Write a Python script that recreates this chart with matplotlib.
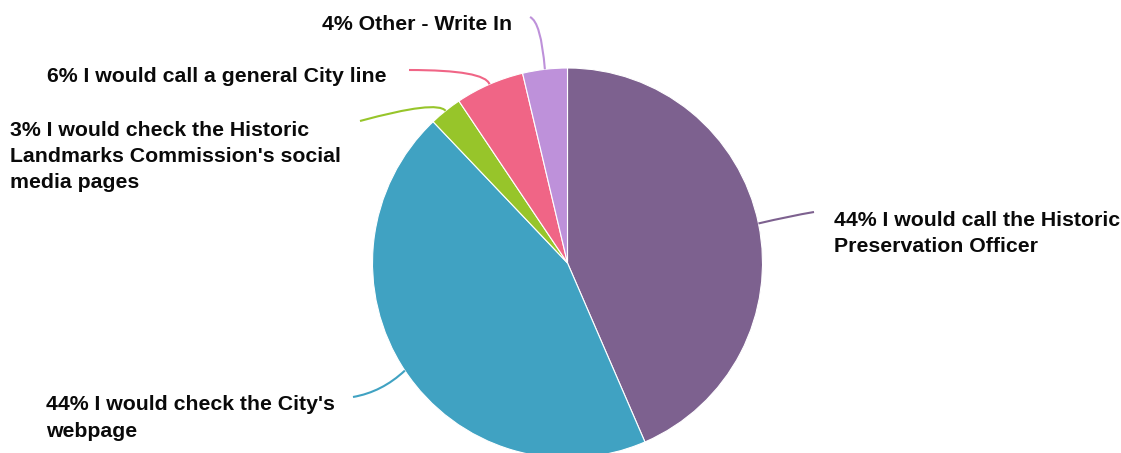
import matplotlib
matplotlib.use("Agg")
import matplotlib.pyplot as plt
import numpy as np
from matplotlib.path import Path
from matplotlib.patches import PathPatch

categories = [
    "I would call the Historic\nPreservation Officer",
    "I would check the City's\nwebpage",
    "I would check the Historic\nLandmarks Commission's social\nmedia pages",
    "I would call a general City line",
    "Other - Write In",
]
values = [43.5, 44.4, 2.7, 5.7, 3.7]
pct_labels = ["44%", "44%", "3%", "6%", "4%"]
colors = ["#7D618F", "#40A2C2", "#97C52A", "#F06586", "#BE91DA"]

W, H = 1121, 453
fig = plt.figure(figsize=(W / 100, H / 100), dpi=100)
ax = fig.add_axes([0, 0, 1, 1])

cx, cy, R = 567.5, H - 263, 195
wedges, _ = ax.pie(values, colors=colors, startangle=90, counterclock=False,
                   center=(cx, cy), radius=R,
                   wedgeprops=dict(edgecolor="white", linewidth=0.8))
ax.set_xlim(0, W)
ax.set_ylim(0, H)
ax.set_aspect("equal")
ax.axis("off")

# label layout (image pixel coords: x, y-center of text block), control & end points of connectors
label_pos = [(834, 233.5), (46, 418), (10, 156.5), (47, 77), (322, 24)]
conn_ctrl = [(790, 216), (382, 392), (437, 100), (485, 70), (541, 22)]
conn_end = [(814, 212), (353, 397), (360, 121), (409, 70), (530, 17)]

for w, col, lab, cat, lp, cc, ce in zip(wedges, colors, pct_labels, categories,
                                         label_pos, conn_ctrl, conn_end):
    ang = np.deg2rad((w.theta1 + w.theta2) / 2)
    sx, sy = cx + R * np.cos(ang), cy + R * np.sin(ang)
    verts = [(sx, sy), (cc[0], H - cc[1]), (ce[0], H - ce[1])]
    path = Path(verts, [Path.MOVETO, Path.CURVE3, Path.CURVE3])
    ax.add_patch(PathPatch(path, facecolor="none", edgecolor=col, lw=1.5, clip_on=False))
    ax.text(lp[0], H - lp[1], f"{lab} {cat}", ha="left", va="center",
            fontsize=15.3, fontweight="bold", family=["Liberation Sans", "DejaVu Sans"],
            color="#0a0a0a", linespacing=1.48)

fig.savefig("out.png", dpi=100)
